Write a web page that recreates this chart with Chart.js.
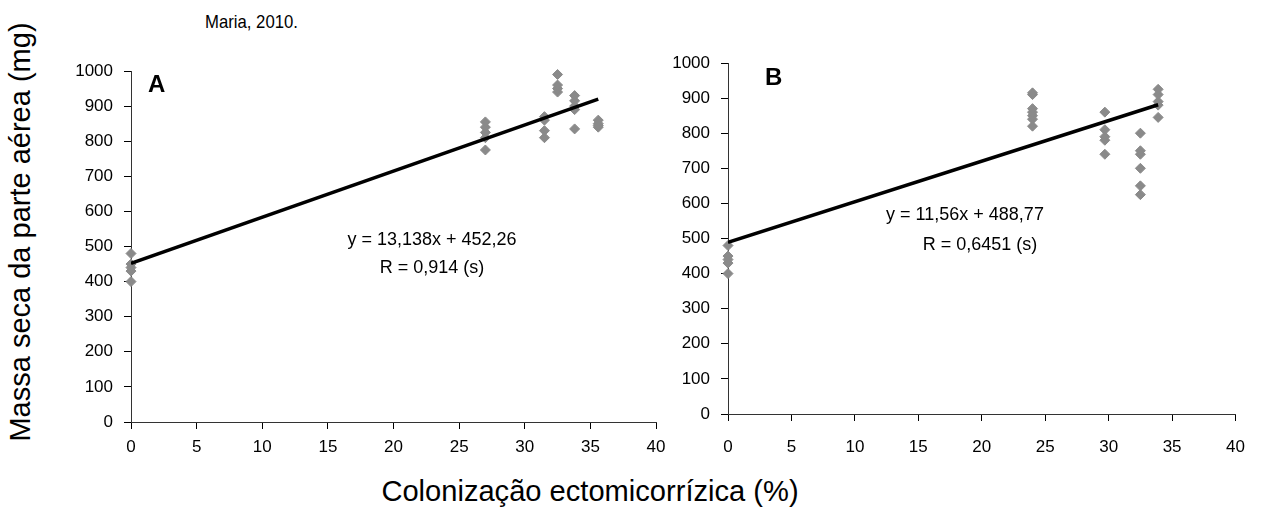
<!DOCTYPE html>
<html>
<head>
<meta charset="utf-8">
<script src="https://cdn.jsdelivr.net/npm/chart.js@4.4.0/dist/chart.umd.min.js"></script>
<style>
  body { margin: 0; background: #fff; width: 1261px; height: 515px; overflow: hidden; position: relative; font-family: "Liberation Sans", Arial, sans-serif; }
  canvas { position: absolute; }
  .txt { position: absolute; color: #000; white-space: nowrap; }
</style>
</head>
<body>
<div class="txt" style="left:205px;top:11px;font-size:19px;transform-origin:left top;transform:scaleX(0.88);">Maria, 2010.</div>
<div class="txt" style="left:20px;top:232px;font-size:29px;transform:translate(-50%,-50%) rotate(-90deg);">Massa seca da parte aérea (mg)</div>
<div class="txt" style="left:590px;top:474px;font-size:30px;transform:translateX(-50%) scaleX(0.97);">Colonização ectomicorrízica (%)</div>
<canvas id="chartA" width="690" height="470" style="left:0;top:0;"></canvas>
<canvas id="chartB" width="601" height="470" style="left:660px;top:0;"></canvas>
<script>
// Panel A: colonização (%) vs massa seca (mg)
const colA  = [0, 0, 0, 0, 0, 27, 27, 27, 27, 27, 31.5, 31.5, 31.5, 31.5, 32.5, 32.5, 32.5, 32.5, 33.8, 33.8, 33.8, 33.8, 33.8, 35.6, 35.6, 35.6, 35.6];
const massA = [400, 430, 440, 450, 480, 775, 810, 825, 840, 855, 810, 830, 860, 870, 940, 950, 960, 990, 835, 890, 900, 915, 930, 840, 845, 850, 860];
const trendXA = [0, 35.6];
const trendYA = [452, 920];

// Panel B
const colB  = [0, 0, 0, 0, 0, 24, 24, 24, 24, 24, 24, 24, 29.7, 29.7, 29.7, 29.7, 29.7, 32.5, 32.5, 32.5, 32.5, 32.5, 32.5, 33.9, 33.9, 33.9, 33.9, 33.9];
const massB = [400, 430, 440, 450, 480, 820, 840, 850, 860, 870, 910, 915, 740, 780, 790, 810, 860, 625, 650, 700, 740, 750, 800, 845, 880, 890, 910, 925];
const trendXB = [0, 33.9];
const trendYB = [489, 881];

const xTicks = [0, 5, 10, 15, 20, 25, 30, 35, 40];
const yTicks = [0, 100, 200, 300, 400, 500, 600, 700, 800, 900, 1000];

const tickFont = { family: "'Liberation Sans', Arial", size: 17 };

const toPts = (xs, ys) => xs.map((x, i) => ({ x: x, y: ys[i] }));

// Labels drawn inside the plot (panel letter + equation)
const annotations = {
    id: 'annotations',
    afterDraw(chart) {
        const { ctx } = chart;
        const a = chart.options.plugins.annotations;
        ctx.save();
        ctx.fillStyle = '#000';
        ctx.textBaseline = 'middle';
        ctx.textAlign = 'left';
        ctx.font = "bold 24px 'Liberation Sans', Arial";
        ctx.fillText(a.letter[0], a.letter[1], a.letter[2]);
        ctx.textAlign = 'center';
        ctx.font = "18px 'Liberation Sans', Arial";
        a.lines.forEach(l => ctx.fillText(l[0], l[1], l[2]));
        ctx.restore();
    }
};

function makeChart(id, xs, ys, tx, ty, geo, notes) {
    return new Chart(document.getElementById(id), {
        type: 'scatter',
        data: {
            datasets: [{
                type: 'line',
                data: toPts(tx, ty),
                borderColor: '#000',
                borderWidth: 3.5,
                pointRadius: 0,
                fill: false,
                order: 0,
            }, {
                data: toPts(xs, ys),
                backgroundColor: '#8a8a8a',
                borderColor: '#8a8a8a',
                pointStyle: 'rectRot',
                pointRadius: 5,
                clip: false,
                order: 1,
            }]
        },
        options: {
            responsive: false,
            animation: false,
            layout: { padding: geo.pad },
            plugins: {
                legend: { display: false },
                tooltip: { enabled: false },
                annotations: notes,
            },
            scales: {
                x: {
                    type: 'linear',
                    min: 0,
                    max: 40,
                    afterBuildTicks: s => { s.ticks = xTicks.map(v => ({ value: v })); },
                    afterFit: s => { s.height = geo.xh; },
                    ticks: { color: '#000', font: tickFont, padding: geo.xpad, maxRotation: 0, callback: v => String(v) },
                    grid: { drawOnChartArea: false, color: '#000', tickLength: 7 },
                    border: { color: '#333', width: 1 },
                },
                y: {
                    min: 0,
                    max: 1000,
                    afterBuildTicks: s => { s.ticks = yTicks.map(v => ({ value: v })); },
                    afterFit: s => { s.width = geo.yw; },
                    ticks: { color: '#000', font: tickFont, padding: 11, callback: v => String(v) },
                    grid: { drawOnChartArea: false, color: '#000', tickLength: 7 },
                    border: { color: '#333', width: 1 },
                }
            }
        },
        plugins: [annotations]
    });
}

makeChart('chartA', colA, massA, trendXA, trendYA,
    { pad: { left: 0, top: 71, right: 34, bottom: 0 }, yw: 131, xh: 48, xpad: 8 },
    { letter: ['A', 148, 85], lines: [['y = 13,138x + 452,26', 432, 240], ['R = 0,914 (s)', 432, 268]] });

makeChart('chartB', colB, massB, trendXB, trendYB,
    { pad: { left: 0, top: 63, right: 18, bottom: 0 }, yw: 68, xh: 56, xpad: 16 },
    { letter: ['B', 105, 78], lines: [['y = 11,56x + 488,77', 305, 215], ['R = 0,6451 (s)', 320, 245]] });
</script>
</body>
</html>
